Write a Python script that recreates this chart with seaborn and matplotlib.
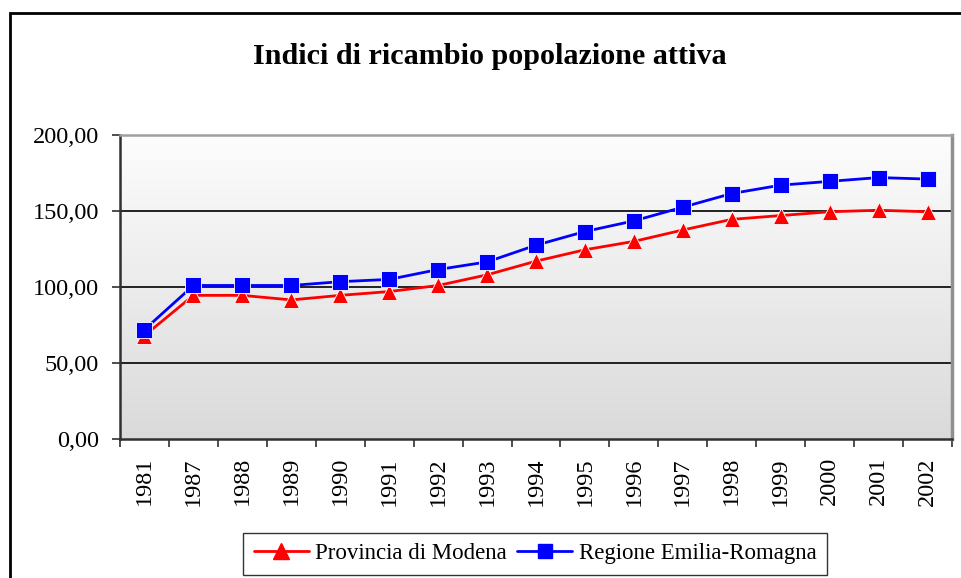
import numpy as np
import pandas as pd
import matplotlib
matplotlib.use("Agg")
import matplotlib.pyplot as plt
from matplotlib.patches import Rectangle
from matplotlib.ticker import FixedLocator, FuncFormatter
import seaborn as sns

# Data
years = ["1981", "1987", "1988", "1989", "1990", "1991", "1992", "1993", "1994",
         "1995", "1996", "1997", "1998", "1999", "2000", "2001", "2002"]
modena = [68.0, 94.5, 94.5, 91.5, 94.5, 97.0, 101.0, 108.0, 117.0,
          124.5, 130.0, 137.5, 144.5, 147.0, 149.5, 150.5, 149.5]
emilia = [72.0, 101.0, 101.0, 101.0, 103.5, 105.0, 111.5, 116.5, 127.5,
          136.5, 143.5, 152.5, 161.5, 167.0, 169.5, 172.0, 171.0]
series_names = ["Provincia di Modena", "Regione Emilia-Romagna"]
title = "Indici di ricambio popolazione attiva"

df = pd.DataFrame({
    "anno": years * 2,
    "valore": modena + emilia,
    "serie": [series_names[0]] * len(years) + [series_names[1]] * len(years),
})

sns.set_theme(style="white")
plt.rcParams["font.family"] = ["Liberation Serif", "DejaVu Serif"]
plt.rcParams["text.color"] = "black"
plt.rcParams["xtick.color"] = "black"
plt.rcParams["ytick.color"] = "black"

fig = plt.figure(figsize=(9.62, 5.78), dpi=100)
ax = fig.add_axes([120 / 962, 1 - 439 / 578, 832 / 962, 304 / 578])

# gradient background of the plot area
grad = np.linspace(0, 1, 256).reshape(-1, 1)
ax.imshow(grad, extent=[0, 1, 0, 1], transform=ax.transAxes, aspect="auto",
          cmap=matplotlib.colors.LinearSegmentedColormap.from_list("bg", ["#fdfdfd", "#dadada"]),
          zorder=0)

sns.lineplot(data=df, x="anno", y="valore", hue="serie", style="serie",
             palette=["#ff0000", "#0000ff"], markers=["^", "s"], dashes=False,
             sort=False, markersize=11, linewidth=2, markeredgewidth=0.6,
             ax=ax, zorder=3, legend=False)

ax.set_xlim(-0.5, len(years) - 0.5)
ax.set_ylim(0, 200)
ax.set_xlabel("")
ax.set_ylabel("")

ax.yaxis.set_major_locator(FixedLocator([0, 50, 100, 150, 200]))
ax.yaxis.set_major_formatter(FuncFormatter(lambda v, p: f"{v:.2f}".replace(".", ",")))
for g in [50, 100, 150]:
    ax.axhline(g, color="#000000", linewidth=1.2, zorder=1)

ax.set_xticks(range(len(years)))
ax.set_xticklabels(years, rotation=90)
ax.set_xticks(np.arange(len(years) + 1) - 0.5, minor=True)
ax.tick_params(axis="x", which="major", length=0, pad=13, labelsize=17.5)
ax.tick_params(axis="x", which="minor", length=6, width=1.2, color="#303030", direction="out", bottom=True)
ax.tick_params(axis="y", which="major", length=6, width=1.2, color="#303030", direction="out",
               left=True, pad=9, labelsize=17.5)

for side, col, lw in [("left", "#303030", 1.8), ("bottom", "#303030", 1.8),
                      ("top", "#a0a0a0", 1.8), ("right", "#909090", 2.5)]:
    ax.spines[side].set_visible(True)
    ax.spines[side].set_color(col)
    ax.spines[side].set_linewidth(lw)

fig.text(490 / 962, 1 - 57 / 578, title, ha="center", va="center",
         fontsize=21.7, fontweight="bold", color="black")

# legend below, partly cut by the figure edge
handles = [
    plt.Line2D([], [], color="#ff0000", marker="^", markersize=11, linewidth=2),
    plt.Line2D([], [], color="#0000ff", marker="s", markersize=10, linewidth=2),
]
leg = fig.legend(handles, series_names, loc="upper center",
                 bbox_to_anchor=(535 / 962, 1 - 533 / 578), ncol=2, fontsize=16.5,
                 frameon=True, fancybox=False, edgecolor="#000000",
                 handlelength=2.4, columnspacing=0.45, handletextpad=0.28,
                 borderpad=0.45, borderaxespad=0)
leg.get_frame().set_linewidth(1.0)

# outer chart frame (only top and left edges show)
fig.add_artist(Rectangle((10 / 962, -0.2), 1.5, 1.2 - 13 / 578, transform=fig.transFigure,
                         fill=False, edgecolor="#000000", linewidth=2))

fig.savefig("out.png", dpi=100)
